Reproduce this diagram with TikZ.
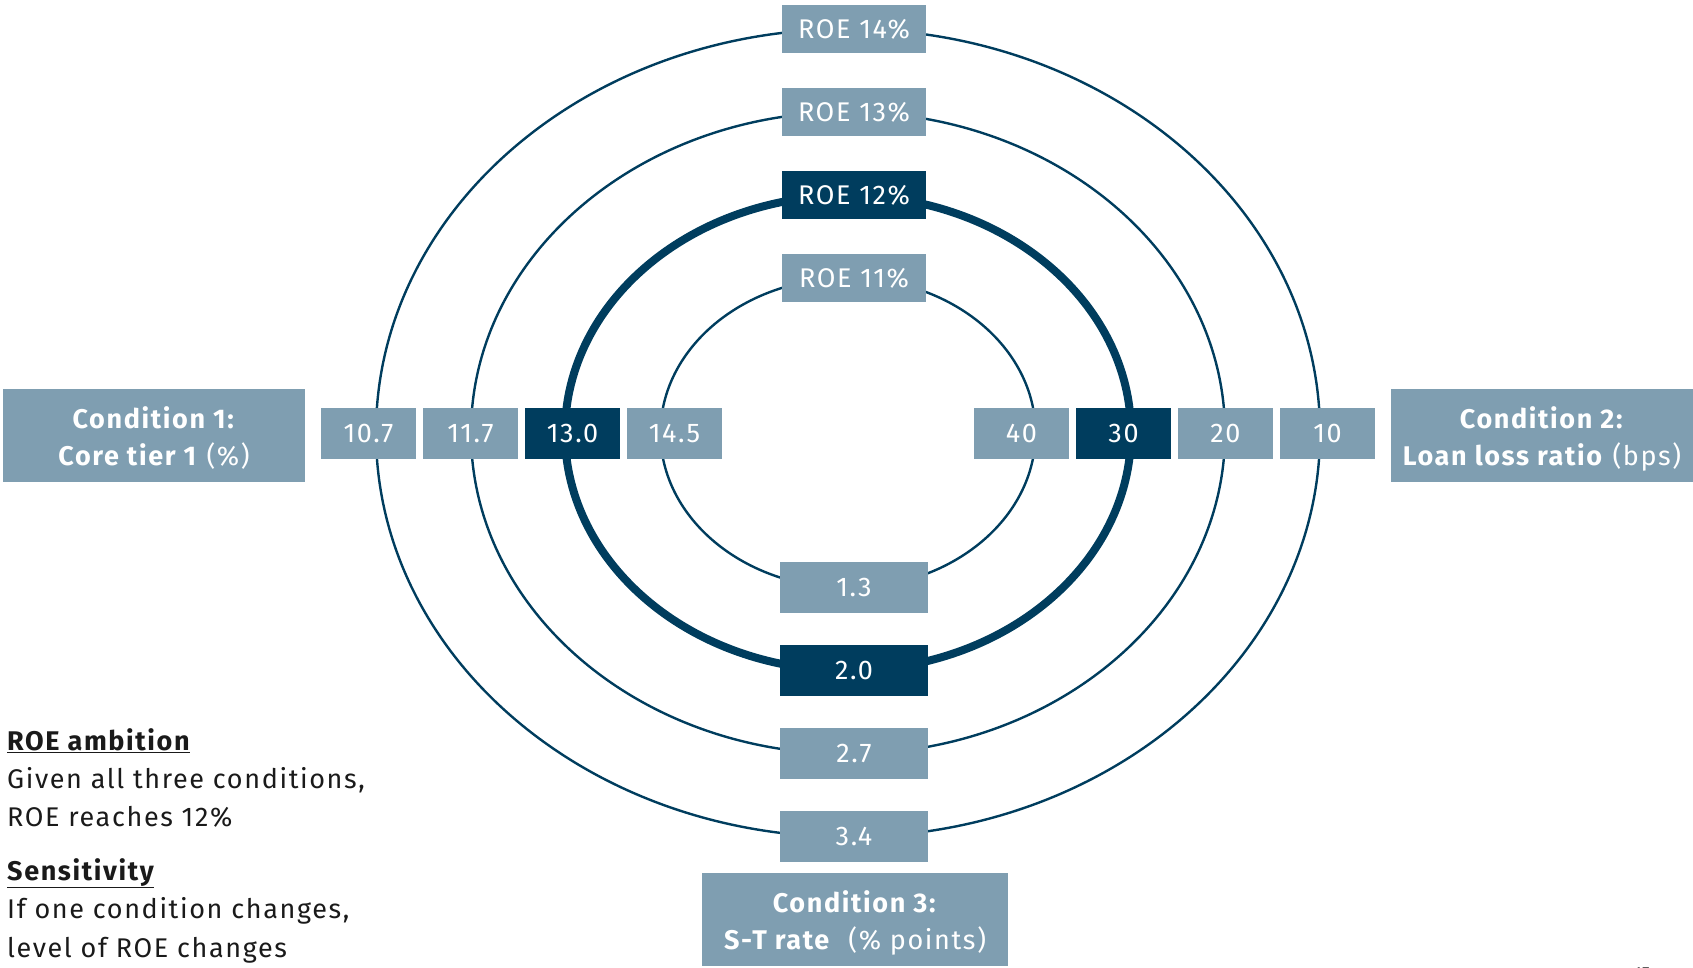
\documentclass[tikz,border=0pt]{standalone}
\usepackage{fontspec}
\setmainfont{Fira Sans}[LetterSpace=6]
\definecolor{lightbox}{HTML}{7F9EB1}
\definecolor{darkbox}{HTML}{003D5E}
\definecolor{ringc}{HTML}{003D5E}
\definecolor{bodytext}{HTML}{1A1A1A}
\tikzset{
  ring/.style={draw=ringc, line width=2.4pt},
  thickring/.style={draw=ringc, line width=8pt},
  valbox/.style={fill=lightbox, text=white, inner sep=0pt, font=\fontsize{27}{30}\selectfont},
  darkval/.style={valbox, fill=darkbox},
  topbox/.style={minimum width=144pt, minimum height=48pt},
  botbox/.style={minimum width=148pt, minimum height=51pt},
  sidebox/.style={minimum width=95pt, minimum height=51pt},
  condbox/.style={fill=lightbox, inner sep=0pt, minimum width=302pt, minimum height=93pt},
  condtext/.style={text=white, inner sep=0pt, align=center, font=\fontsize{27}{37}\selectfont},
  bodyline/.style={anchor=base west, inner sep=0pt, text=bodytext, font=\fontsize{27}{30}\selectfont}
}
\begin{document}
\begin{tikzpicture}[x=1pt,y=-1pt]
\useasboundingbox (0,0) rectangle (1693,968);
\clip (0,0) rectangle (1693,968);
\coordinate (c) at (848,433);
% rings
\draw[ring] (c) ellipse [x radius=472, y radius=404];
\draw[ring] (c) ellipse [x radius=377, y radius=321];
\draw[thickring] (c) ellipse [x radius=283, y radius=237.5];
\draw[ring] (c) ellipse [x radius=187.5, y radius=155];
% top labels
\node[valbox, topbox] (t14) at (854,29) {ROE 14\%};
\node[valbox, topbox] (t13) at (854,112) {ROE 13\%};
\node[darkval, topbox] (t12) at (854,195) {ROE 12\%};
\node[valbox, topbox] (t11) at (854,278) {ROE 11\%};
% bottom labels
\node[valbox, botbox] (b13) at (854,587.5) {1.3};
\node[darkval, botbox] (b20) at (854,670) {2.0};
\node[valbox, botbox] (b27) at (854,753.5) {2.7};
\node[valbox, botbox] (b34) at (854,836.5) {3.4};
% left labels
\node[valbox, sidebox] (l107) at (368.5,433.5) {10.7};
\node[valbox, sidebox] (l117) at (470.5,433.5) {11.7};
\node[darkval, sidebox] (l130) at (572.5,433.5) {13.0};
\node[valbox, sidebox] (l145) at (674.5,433.5) {14.5};
% right labels
\node[valbox, sidebox] (r40) at (1021.5,433.5) {40};
\node[darkval, sidebox] (r30) at (1123.5,433.5) {30};
\node[valbox, sidebox] (r20) at (1225.5,433.5) {20};
\node[valbox, sidebox] (r10) at (1327.5,433.5) {10};
% condition boxes
\node[condbox] (cond1) at (154,435.5) {};
\node[condtext] (cond1t) at ([yshift=-3pt]cond1.center) {\textbf{Condition 1:}\\\textbf{Core tier 1} (\%)};
\node[condbox] (cond2) at (1542,435.5) {};
\node[condtext] (cond2t) at ([yshift=-3pt]cond2.center) {\textbf{Condition 2:}\\\textbf{Loan loss ratio} (bps)};
\node[condbox, minimum width=306pt] (cond3) at (855,919.5) {};
\node[condtext] (cond3t) at ([yshift=-3pt]cond3.center) {\textbf{Condition 3:}\\\textbf{S-T rate}\ \ (\% points)};
% side text
\node[bodyline] (amb) at (7,750) {\textbf{\underline{ROE ambition}}};
\node[bodyline] (amb1) at (7,788) {Given all three conditions,};
\node[bodyline] (amb2) at (7,826) {ROE reaches 12\%};
\node[bodyline] (sen) at (7,880) {\textbf{\underline{Sensitivity}}};
\node[bodyline] (sen1) at (7,918) {If one condition changes,};
\node[bodyline] (sen2) at (7,957) {level of ROE changes};
% page number
\node[anchor=base, inner sep=0pt, text=bodytext, font=\fontsize{16}{18}\selectfont] (pg) at (1642,978) {17};
\end{tikzpicture}
\end{document}
